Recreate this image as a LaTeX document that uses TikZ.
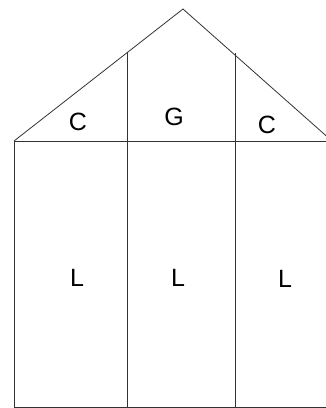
\documentclass[tikz,border=0pt]{standalone}
\usepackage{fontspec}
\setmainfont{Liberation Sans}
\usetikzlibrary{positioning}

\begin{document}
\begin{tikzpicture}[x=1pt, y=-1pt, line width=0.8pt,
    every node/.style={font=\fontsize{25}{30}\selectfont},
    wall/.style={draw=black!80}]
    \useasboundingbox (0,0) rectangle (326,408);
    \clip (0,0) rectangle (326,408);
    % roof and walls
    \coordinate (apex) at (183,9);
    \coordinate (eaveL) at (14,141);
    \coordinate (eaveR) at (332,141);
    \coordinate (beamR) at (340,141);
    \coordinate (baseL) at (14,407);
    \coordinate (baseR) at (340,407);
    \draw[wall] (eaveL) -- (apex) -- (eaveR);
    \draw[wall] (eaveL) -- (baseL) -- (baseR);
    \draw[wall] (eaveL) -- (beamR);
    % dividers
    \coordinate (roofA) at (127,52);
    \coordinate (roofB) at (235,53);
    \coordinate (footA) at (127,407);
    \coordinate (footB) at (235,407);
    \draw[wall] (roofA) -- (footA);
    \draw[wall] (roofB) -- (footB);
    % labels
    \node (cleft) at (78,122) {C};
    \node (gmid) at (174,117) {G};
    \node (cright) at (267,125) {C};
    \node (lleft) at (77,278) {L};
    \node (lmid) at (178,278) {L};
    \node (lright) at (285,279) {L};
\end{tikzpicture}
\end{document}
